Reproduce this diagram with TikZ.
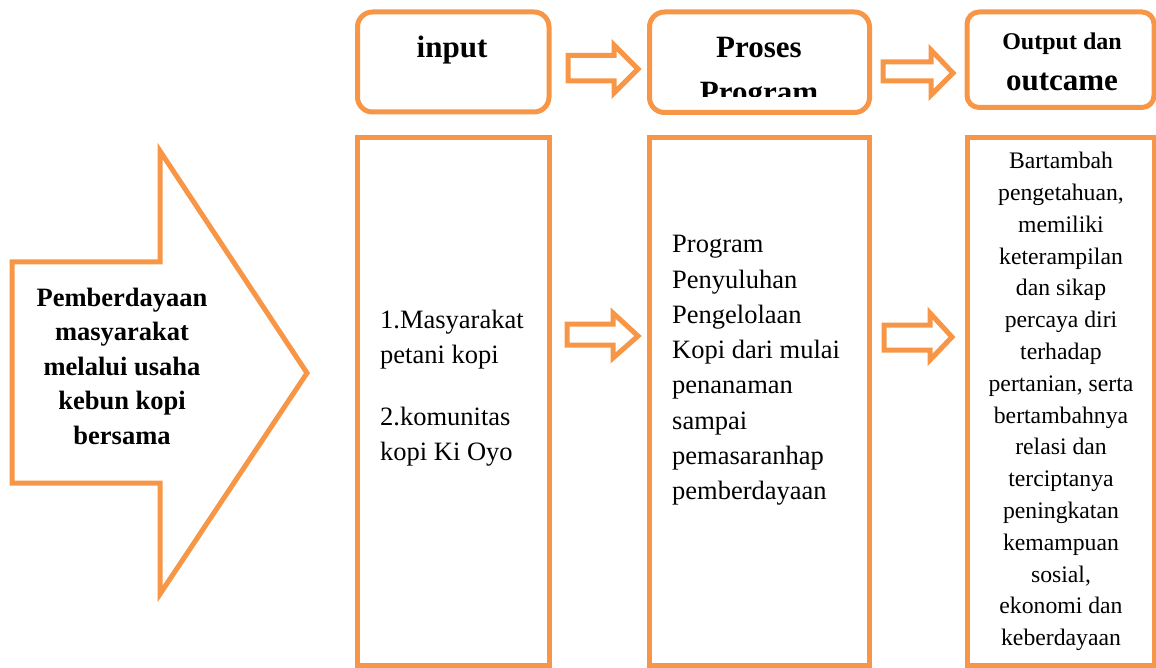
\documentclass[tikz,border=0pt]{standalone}
\usepackage{fontspec}
\setmainfont{Liberation Serif}
\usepackage{tikz}
\usetikzlibrary{positioning}

\definecolor{boxorange}{RGB}{247,150,70}

\tikzset{
  box/.style={draw=boxorange, line width=5pt, inner sep=0pt},
  topbox/.style={box, rounded corners=15pt},
  fatarrow/.style={draw=boxorange, line width=5pt, line join=miter},
  headlbl/.style={font=\fontsize{31}{45}\selectfont\bfseries, inner sep=0pt, align=center},
  bodytxt/.style={font=\fontsize{26.5}{35.3}\selectfont, inner sep=0pt},
}

\begin{document}
\begin{tikzpicture}[x=1pt,y=-1pt]
\useasboundingbox (0,0) rectangle (1156,668);

% big arrow on the left
\draw[fatarrow] (12,262) -- (160,262) -- (160,151) -- (307,373) -- (160,594) -- (160,483) -- (12,483) -- cycle;
\node[font=\fontsize{26.5}{34.5}\selectfont\bfseries, align=center, inner sep=0pt] (tema) at (122,366)
  {Pemberdayaan\\masyarakat\\melalui usaha\\kebun kopi\\bersama};

% header boxes
\node[topbox, minimum width=191.5pt, minimum height=100pt] (input) at (453.25,62) {};
\node[topbox, minimum width=220pt, minimum height=100.5pt] (proses) at (759.5,62.25) {};
\node[topbox, rounded corners=12pt, minimum width=187pt, minimum height=95.5pt] (output) at (1060.5,59.75) {};

\node[headlbl] (inputlbl) at (452,50) {input};
\begin{scope}
  \clip (652,14) rectangle (867,97);
  \node[headlbl, anchor=north] (proseslbl) at (759,37.5) {Proses\\Program};
\end{scope}
\node[font=\fontsize{24}{28}\selectfont\bfseries, inner sep=0pt] (outputlbl) at (1062,43.5) {Output dan};
\node[font=\fontsize{31}{36}\selectfont\bfseries, inner sep=0pt] (outcamelbl) at (1062,82) {outcame};

% header arrows
\draw[fatarrow] (568,55.5) -- (614,55.5) -- (614,45) -- (638,69) -- (614,93) -- (614,81) -- (568,81) -- cycle;
\draw[fatarrow] (883,62) -- (931,62) -- (931,50) -- (953,73) -- (931,95) -- (931,81) -- (883,81) -- cycle;

% body boxes
\node[box, minimum width=191.5pt, minimum height=528pt] (inputbox) at (453.25,401.5) {};
\node[box, minimum width=220pt, minimum height=528pt] (prosesbox) at (759.5,401.5) {};
\node[box, minimum width=187pt, minimum height=528pt] (outputbox) at (1060.5,401.5) {};

\node[bodytxt, font=\fontsize{26.5}{35}\selectfont, align=left, anchor=west] (inputtxt) at (380,388)
  {1.Masyarakat\\petani kopi\\[27pt]2.komunitas\\kopi Ki Oyo};
\node[bodytxt, align=left, anchor=west] (prosestxt) at (672,370.5)
  {Program\\Penyuluhan\\Pengelolaan\\Kopi dari mulai\\penanaman\\sampai\\pemasaranhap\\pemberdayaan};
\node[font=\fontsize{23.7}{31.8}\selectfont, align=center, inner sep=0pt] (outputtxt) at (1061,401.5)
  {Bartambah\\pengetahuan,\\memiliki\\keterampilan\\dan sikap\\percaya diri\\terhadap\\pertanian, serta\\bertambahnya\\relasi dan\\terciptanya\\peningkatan\\kemampuan\\sosial,\\ekonomi dan\\keberdayaan};

% body arrows
\draw[fatarrow] (567,324) -- (613,324) -- (613,313) -- (638,336) -- (613,358) -- (613,345) -- (567,345) -- cycle;
\draw[fatarrow] (884,325) -- (930,325) -- (930,313) -- (952,337) -- (930,360) -- (930,350) -- (884,350) -- cycle;
\end{tikzpicture}
\end{document}
